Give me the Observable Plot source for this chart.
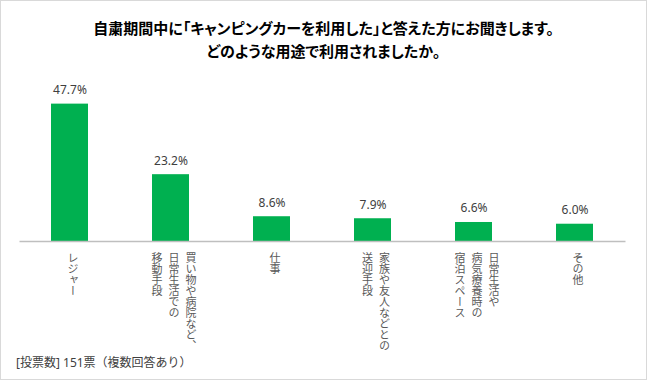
<!DOCTYPE html>
<html><head><meta charset="utf-8">
<script src="https://cdn.jsdelivr.net/npm/d3@7"></script>
<script src="https://cdn.jsdelivr.net/npm/@observablehq/plot@0.6"></script>
<style>
body{margin:0;background:#fff;}
#frame{position:relative;width:645px;height:378px;border:1px solid #d9d9d9;overflow:hidden;background:#fff;font-family:"Noto Sans CJK JP",sans-serif;}
#title{position:absolute;left:0;top:15px;width:645px;text-align:center;font-weight:bold;font-size:15px;line-height:23px;color:#000;font-feature-settings:"palt";}
#chart{position:absolute;left:0;top:66px;}
#caption{position:absolute;left:15px;top:354px;font-size:12px;line-height:16px;color:#404040;font-family:"Noto Sans","Noto Sans CJK JP",sans-serif;}
</style></head>
<body><div id="frame"><div id="title"></div><div id="chart"></div><div id="caption"></div></div>
<script>
const titleLines = ["自粛期間中に「キャンピングカーを利用した」と答えた方にお聞きします。", "どのような用途で利用されましたか。"];
const categories = ["レジャー", "買い物や病院など、日常生活での移動手段", "仕事", "家族や友人などとの送迎手段", "日常生活や病気療養時の宿泊スペース", "その他"];
const labelLines = [
  ["レジャー"],
  ["買い物や病院など、", "日常生活での", "移動手段"],
  ["仕事"],
  ["家族や友人などとの", "送迎手段"],
  ["日常生活や", "病気療養時の", "宿泊スペース"],
  ["その他"]
];
const values = [47.7, 23.2, 8.6, 7.9, 6.6, 6.0];
const valueLabels = ["47.7%", "23.2%", "8.6%", "7.9%", "6.6%", "6.0%"];
const captionText = "[投票数] 151票（複数回答あり）";

document.getElementById("title").innerHTML = titleLines.map(t => `<div>${t}</div>`).join("");
document.getElementById("caption").textContent = captionText;

const rows = categories.map((c, i) => ({cat: c, value: values[i], label: valueLabels[i]}));
const colRows = [];
categories.forEach((c, i) => {
  const ls = labelLines[i];
  ls.forEach((t, k) => colRows.push({cat: c, text: t, off: ((ls.length - 1) / 2 - k) * 17}));
});
const offsets = [...new Set(colRows.map(d => d.off))];

const plot = Plot.plot({
  width: 645, height: 290,
  marginLeft: 18.5, marginRight: 20.5, marginTop: 30, marginBottom: 116,
  x: {domain: categories, paddingInner: 0.63, paddingOuter: 0.315, axis: null},
  y: {domain: [0, 50], axis: null},
  style: {fontFamily: "'Noto Sans','Noto Sans CJK JP',sans-serif", overflow: "visible", background: "transparent"},
  marks: [
    Plot.barY(rows, {x: "cat", y: "value", fill: "#00b050"}),
    Plot.ruleY([0], {stroke: "#bfbfbf", strokeWidth: 1.5}),
    Plot.text(rows, {x: "cat", y: "value", text: "label", dy: -14, fill: "#404040", fontSize: 12}),
    ...offsets.map(o => Plot.text(colRows.filter(d => d.off === o), {
      x: "cat", y: () => 0, text: "text", dx: o + 3, dy: 7,
      textAnchor: "start", fill: "#595959", fontSize: 11,
      fontFamily: "'Noto Sans CJK JP',sans-serif",
      ariaDescription: "vlabel"
    }))
  ]
});
d3.select(plot).selectAll("g[aria-description=vlabel] text")
  .attr("dy", null)
  .style("writing-mode", "vertical-rl")
  .style("text-orientation", "upright");
document.getElementById("chart").appendChild(plot);
</script>
</body></html>
